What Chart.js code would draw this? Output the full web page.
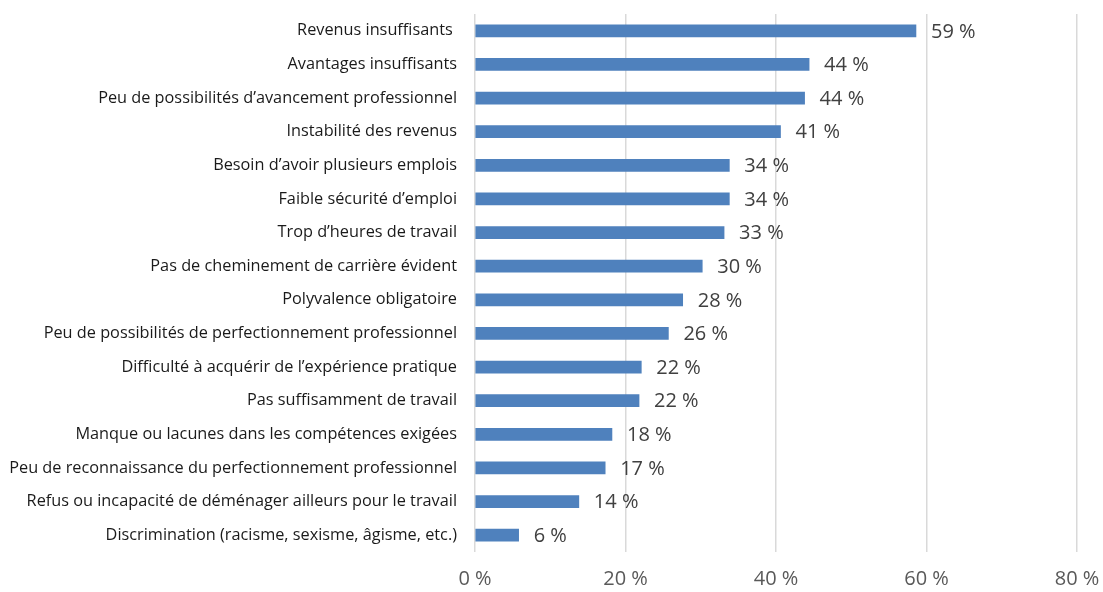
<!DOCTYPE html>
<html>
<head>
<meta charset="utf-8">
<script src="https://cdn.jsdelivr.net/npm/chart.js@4.4.1/dist/chart.umd.min.js"></script>
<style>
  html, body { margin: 0; padding: 0; background: #ffffff; }
  #wrap { width: 1103px; height: 592px; position: relative; }
</style>
</head>
<body>
<div id="wrap"><canvas id="c" width="1103" height="592"></canvas></div>
<script>
const categories = [
  "Revenus insuffisants ",
  "Avantages insuffisants",
  "Peu de possibilités d’avancement professionnel",
  "Instabilité des revenus",
  "Besoin d’avoir plusieurs emplois",
  "Faible sécurité d’emploi",
  "Trop d’heures de travail",
  "Pas de cheminement de carrière évident",
  "Polyvalence obligatoire",
  "Peu de possibilités de perfectionnement professionnel",
  "Difficulté à acquérir de l’expérience pratique",
  "Pas suffisamment de travail",
  "Manque ou lacunes dans les compétences exigées",
  "Peu de reconnaissance du perfectionnement professionnel",
  "Refus ou incapacité de déménager ailleurs pour le travail",
  "Discrimination (racisme, sexisme, âgisme, etc.)"
];
const values = [58.6, 44.4, 43.8, 40.6, 33.8, 33.8, 33.1, 30.2, 27.6, 25.7, 22.1, 21.8, 18.2, 17.3, 13.8, 5.8];
const valueLabels = ["59 %", "44 %", "44 %", "41 %", "34 %", "34 %", "33 %", "30 %", "28 %", "26 %", "22 %", "22 %", "18 %", "17 %", "14 %", "6 %"];
const tickLabels = ["0 %", "20 %", "40 %", "60 %", "80 %"];

const FONT = "'Open Sans', sans-serif";

const valueLabelPlugin = {
  id: 'valueLabels',
  afterDatasetsDraw(chart) {
    const ctx = chart.ctx;
    const meta = chart.getDatasetMeta(0);
    ctx.save();
    ctx.font = "20px " + FONT;
    ctx.fillStyle = "#404040";
    ctx.textAlign = "left";
    ctx.textBaseline = "middle";
    meta.data.forEach((bar, i) => {
      ctx.fillText(valueLabels[i], bar.x + 15, bar.y + 1);
    });
    ctx.restore();
  }
};

new Chart(document.getElementById('c'), {
  type: 'bar',
  data: {
    labels: categories,
    datasets: [{
      data: values,
      backgroundColor: '#4f81bd',
      borderWidth: 0,
      barThickness: 12
    }]
  },
  options: {
    indexAxis: 'y',
    responsive: false,
    animation: false,
    layout: { padding: { top: 14, right: 26, left: 0, bottom: 0 } },
    plugins: { legend: { display: false }, tooltip: { enabled: false } },
    scales: {
      x: {
        min: 0, max: 80,
        ticks: {
          stepSize: 20,
          callback: (v, i) => tickLabels[i],
          font: { family: FONT, size: 20 },
          color: '#595959',
          padding: 15,
          maxRotation: 0
        },
        grid: { color: '#d9d9d9', lineWidth: 1.5, drawTicks: false },
        border: { display: false },
        afterFit(scale) { scale.height = 40; scale.paddingLeft = 0; scale.paddingRight = 0; }
      },
      y: {
        ticks: {
          font: { family: FONT, size: 16.3 },
          color: '#1a1a1a',
          padding: 18,
          autoSkip: false
        },
        grid: { display: false, drawTicks: false },
        border: { display: false },
        afterFit(scale) { scale.width = 475; scale.paddingTop = 0; scale.paddingBottom = 0; }
      }
    }
  },
  plugins: [valueLabelPlugin]
});
</script>
</body>
</html>
